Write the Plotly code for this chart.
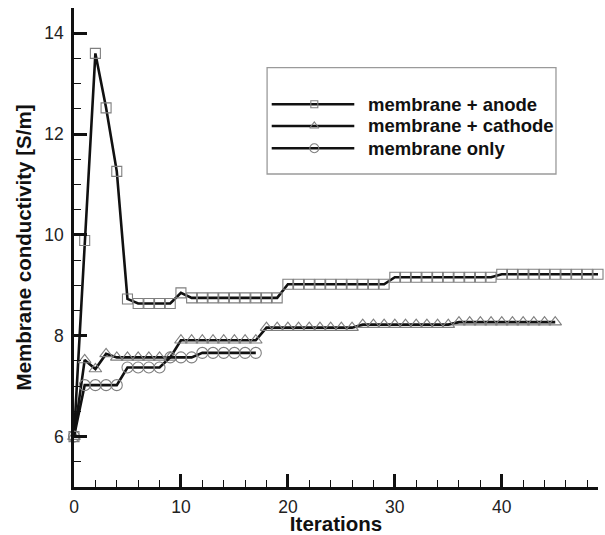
import plotly.graph_objects as go

# ---- data ----
anode_x = list(range(0, 50))
anode_y = [6.0, 9.89, 13.6, 12.52, 11.26, 8.73, 8.64, 8.64, 8.64, 8.64,
           8.85, 8.75, 8.75, 8.75, 8.75, 8.75, 8.75, 8.75, 8.75, 8.75,
           9.02, 9.02, 9.02, 9.02, 9.02, 9.02, 9.02, 9.02, 9.02, 9.02,
           9.16, 9.16, 9.16, 9.16, 9.16, 9.16, 9.16, 9.16, 9.16, 9.16,
           9.22, 9.22, 9.22, 9.22, 9.22, 9.22, 9.22, 9.22, 9.22, 9.22]

cathode_x = list(range(0, 46))
cathode_y = [6.0, 7.52, 7.34, 7.64, 7.57, 7.57, 7.57, 7.57, 7.57, 7.57,
             7.91, 7.91, 7.91, 7.91, 7.91, 7.91, 7.91, 7.91,
             8.16, 8.16, 8.16, 8.16, 8.16, 8.16, 8.16, 8.16, 8.16,
             8.22, 8.22, 8.22, 8.22, 8.22, 8.22, 8.22, 8.22, 8.22,
             8.27, 8.27, 8.27, 8.27, 8.27, 8.27, 8.27, 8.27, 8.27, 8.27]

only_x = list(range(0, 18))
only_y = [6.0, 7.02, 7.02, 7.02, 7.02, 7.37, 7.37, 7.37, 7.37,
          7.57, 7.57, 7.57, 7.66, 7.66, 7.66, 7.66, 7.66, 7.66]

series_names = ["membrane + anode", "membrane + cathode", "membrane only"]
x_title = "Iterations"
y_title = "Membrane conductivity [S/m]"

FONT = "Liberation Sans, Arial, Helvetica, sans-serif"
LINE_COLOR = "#111111"
MARK_COLOR = "#7f7f7f"

series = [
    (anode_x, anode_y, "square-open", 10, 7),
    (cathode_x, cathode_y, "triangle-up-open", 11, 8),
    (only_x, only_y, "circle-open", 11, 9),
]

fig = go.Figure()
for (xs, ys, sym, size, _), name in zip(series, series_names):
    fig.add_trace(go.Scatter(
        x=xs, y=ys, mode="lines+markers", name=name,
        line=dict(color=LINE_COLOR, width=2.6),
        marker=dict(symbol=sym, size=size, color=MARK_COLOR,
                    line=dict(color=MARK_COLOR, width=1.1)),
        showlegend=False, cliponaxis=False,
    ))

# ---- custom legend drawn on an overlay axis (0..1 over the plot area) ----
leg_box = dict(x0=0.3685, x1=0.9198, y0=0.6534, y1=0.8754)
leg_line_x = [0.3773, 0.4586, 0.5349]
leg_rows_y = [0.799, 0.7537, 0.7071]
leg_text_x = 0.5573

for (xs, ys, sym, _, lsize), name, ly in zip(series, series_names, leg_rows_y):
    fig.add_trace(go.Scatter(
        x=leg_line_x, y=[ly] * 3, xaxis="x2", yaxis="y2",
        mode="lines+markers", showlegend=False, hoverinfo="skip",
        line=dict(color=LINE_COLOR, width=2.6),
        marker=dict(symbol=sym, size=lsize, color=MARK_COLOR,
                    opacity=[0, 1, 0],
                    line=dict(color=MARK_COLOR, width=1.1)),
    ))
    fig.add_annotation(
        x=leg_text_x, y=ly, xref="x2", yref="y2", text=name,
        showarrow=False, xanchor="left", yanchor="middle",
        font=dict(family=FONT, size=18.5, color="#111111", weight="bold"),
    )

fig.add_shape(type="rect", xref="x2", yref="y2", **leg_box,
              line=dict(color="#9a9a9a", width=1.3), fillcolor="rgba(0,0,0,0)")

axis_common = dict(
    showgrid=False, zeroline=False, showline=True, automargin=False,
    linecolor=LINE_COLOR, linewidth=2.5,
    ticks="inside", tickcolor=LINE_COLOR, tickwidth=2.5, ticklen=13,
    tickfont=dict(family=FONT, size=17.5, color="#222222"),
)

fig.update_layout(
    width=605, height=535,
    margin=dict(l=74, r=7, t=8, b=48),
    paper_bgcolor="white", plot_bgcolor="white",
    font=dict(family=FONT),
    xaxis=dict(
        range=[0, 49], tick0=0, dtick=10, **axis_common,
        ticklabelstandoff=2,
        minor=dict(ticks="inside", dtick=2, ticklen=7, tickwidth=1.2,
                   tickcolor=LINE_COLOR, showgrid=False),
        title=dict(text=x_title, standoff=2,
                   font=dict(family=FONT, size=20.5, color="#111111", weight="bold")),
    ),
    yaxis=dict(
        range=[5, 14.5], tick0=0, dtick=2, **axis_common,
        ticklabelstandoff=4,
        minor=dict(ticks="inside", dtick=0.5, ticklen=7, tickwidth=1.2,
                   tickcolor=LINE_COLOR, showgrid=False),
        title=dict(text=y_title, standoff=8,
                   font=dict(family=FONT, size=20.5, color="#111111", weight="bold")),
    ),
    xaxis2=dict(overlaying="x", range=[0, 1], visible=False),
    yaxis2=dict(overlaying="y", range=[0, 1], visible=False),
)

fig.write_html("out.html", config={"displayModeBar": False},
               post_script="document.body.style.margin='0';"
                           "document.body.style.overflow='hidden';")
